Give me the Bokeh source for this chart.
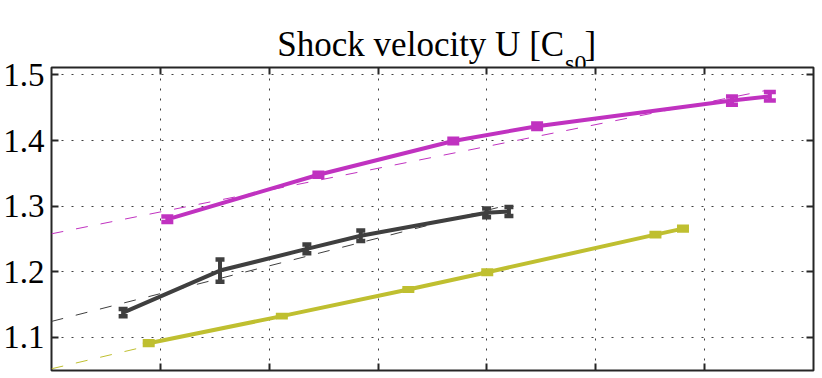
from bokeh.plotting import figure
from bokeh.layouts import column
from bokeh.models import (Range1d, FixedTicker, LinearAxis, Whisker,
                          TeeHead, ColumnDataSource)
from bokeh.core.properties import value
from bokeh.embed import file_html
from bokeh.resources import INLINE

# ---------------- data ----------------
title_main = "Shock velocity U [C"
title_sub = "s0"
title_end = "]"

y_ticks = [1.1, 1.2, 1.3, 1.4, 1.5]
y_tick_labels = ["1.1", "1.2", "1.3", "1.4", "1.5"]
x_ticks = [1, 2, 3, 4, 5, 6]

mag_x = [1.064, 2.452, 3.691, 4.461, 6.251, 6.599]
mag_y = [1.280, 1.348, 1.3995, 1.422, 1.461, 1.4675]
mag_err = [0.0042, 0.0029, 0.0034, 0.0042, 0.0062, 0.0065]

gray_x = [0.658, 1.548, 2.346, 2.841, 3.997, 4.202]
gray_y = [1.138, 1.202, 1.235, 1.255, 1.290, 1.292]
gray_err = [0.0055, 0.0169, 0.0067, 0.0080, 0.0067, 0.0067]

yel_x = [0.893, 2.116, 3.278, 4.003, 5.548, 5.801]
yel_y = [1.0913, 1.1325, 1.1732, 1.1995, 1.2567, 1.2659]
yel_err = [0.0029, 0.0017, 0.0019, 0.0027, 0.0024, 0.0027]

mag_fit_x = [0.0, 6.55]
mag_fit_y = [1.258, 1.476]
gray_fit_x = [0.0, 4.1]
gray_fit_y = [1.1245, 1.298]
yel_fit_x = [0.0, 0.89]
yel_fit_y = [1.0523, 1.0872]

MAG = "#C032C0"
GRAY = "#3F3F3F"
YEL = "#BFBF30"
INK = "#262626"
FONT = "Liberation Serif"

W = 822
TITLE_H = 80
OVERLAP = 30
MAIN_H = 378 - TITLE_H + OVERLAP

# ---------------- title strip (the plot below overlaps its lower part) ----------------
t = figure(width=W, height=TITLE_H, output_backend="svg", toolbar_location=None,
           title=None,
           x_range=Range1d(0, W), y_range=Range1d(TITLE_H, 0),
           x_axis_location=None, y_axis_location=None,
           min_border=0, min_border_left=0, min_border_right=0,
           min_border_top=0, min_border_bottom=0)
t.styles = {"margin-bottom": f"-{OVERLAP}px"}
t.outline_line_color = None
t.xgrid.visible = False
t.ygrid.visible = False
t.background_fill_color = "white"
t.border_fill_color = "white"
t.text(x=[553], y=[44], text=[title_main], text_align="right",
       text_baseline="alphabetic", text_font=value(FONT),
       text_font_size="35px", text_color="black")
t.text(x=[554], y=[62], text=[title_sub], text_align="left",
       text_baseline="alphabetic", text_font=value(FONT),
       text_font_size="24px", text_color="black")
t.text(x=[575], y=[44], text=[title_end], text_align="left",
       text_baseline="alphabetic", text_font=value(FONT),
       text_font_size="35px", text_color="black")

# ---------------- main plot ----------------
p = figure(width=W, height=MAIN_H, output_backend="svg", toolbar_location=None,
           title=None,
           x_range=Range1d(0, 7), y_range=Range1d(1.0497, 1.5114),
           min_border_left=51, min_border_right=9,
           min_border_top=67 - (TITLE_H - OVERLAP),
           min_border_bottom=8)
p.background_fill_color = "white"
p.border_fill_color = None
p.outline_line_color = INK
p.outline_line_width = 2
p.outline_line_alpha = 1


def style_axis(ax, ticks, show_labels):
    ax.ticker = FixedTicker(ticks=ticks)
    ax.major_tick_in = 7
    ax.major_tick_out = 0
    ax.minor_tick_line_color = None
    ax.major_tick_line_color = INK
    ax.major_tick_line_width = 2
    ax.axis_line_color = None
    if show_labels:
        ax.major_label_text_font = FONT
        ax.major_label_text_font_size = "33px"
        ax.major_label_text_color = "black"
        ax.major_label_standoff = 7
        ax.major_label_overrides = {tk: s for tk, s in zip(y_ticks, y_tick_labels)}
    else:
        ax.major_label_overrides = {tk: "" for tk in ticks}
        ax.major_label_text_font_size = "1px"
        ax.major_label_standoff = 0


style_axis(p.xaxis[0], x_ticks, False)
style_axis(p.yaxis[0], y_ticks, True)
top_ax = LinearAxis()
style_axis(top_ax, x_ticks, False)
p.add_layout(top_ax, "above")
right_ax = LinearAxis()
style_axis(right_ax, y_ticks, False)
p.add_layout(right_ax, "right")

for g, ticks in ((p.xgrid[0], x_ticks), (p.ygrid[0], y_ticks)):
    g.ticker = FixedTicker(ticks=ticks)
    g.grid_line_color = "#404040"
    g.grid_line_width = 1
    g.grid_line_dash = "2 8"
    g.grid_line_alpha = 1

# dashed fits
for fx, fy, col in ((mag_fit_x, mag_fit_y, MAG), (gray_fit_x, gray_fit_y, GRAY),
                    (yel_fit_x, yel_fit_y, YEL)):
    p.line(fx, fy, line_color=col, line_width=1, line_dash="12 13")

# series lines + error bars
for xs, ys, es, col, capw in ((mag_x, mag_y, mag_err, MAG, 12),
                              (gray_x, gray_y, gray_err, GRAY, 9),
                              (yel_x, yel_y, yel_err, YEL, 12)):
    p.line(xs, ys, line_color=col, line_width=4)
    src = ColumnDataSource(data=dict(
        base=xs,
        lower=[y - e for y, e in zip(ys, es)],
        upper=[y + e for y, e in zip(ys, es)]))
    w = Whisker(source=src, base="base", lower="lower", upper="upper",
                dimension="height", line_color=col, line_width=4,
                upper_head=TeeHead(size=capw, line_color=col, line_width=4.5),
                lower_head=TeeHead(size=capw, line_color=col, line_width=4.5))
    p.add_layout(w)

layout = column(t, p, spacing=0)
open("out.html", "w").write(file_html(layout, INLINE))
